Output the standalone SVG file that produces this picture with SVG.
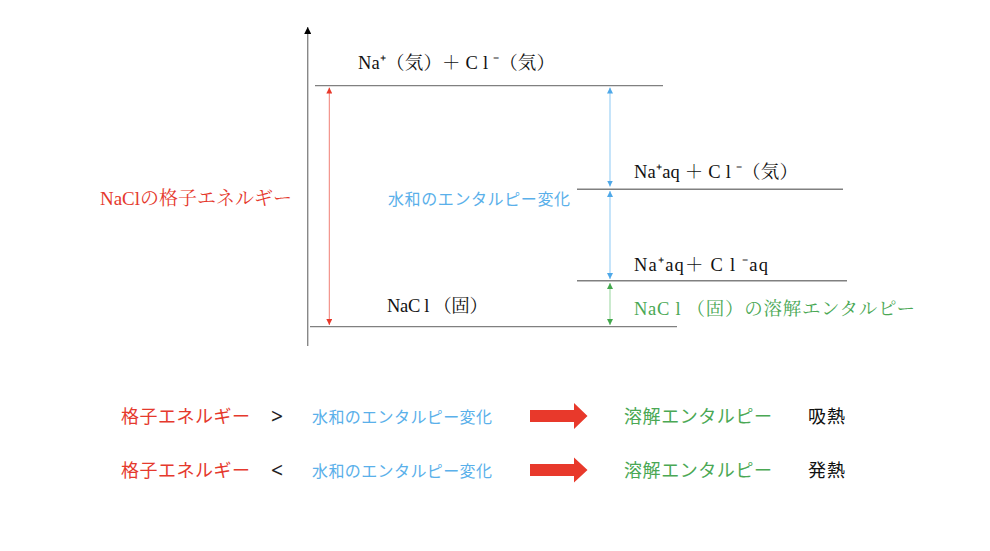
<svg xmlns="http://www.w3.org/2000/svg" width="990" height="551" viewBox="0 0 990 551">
<defs>
<style>
.lvl{stroke:#808080;stroke-width:1.4;fill:none}
.ser{font-family:"Liberation Serif","Noto Serif CJK JP","Noto Sans CJK JP",serif;font-size:18.5px;fill:#111}
.sans{font-family:"Noto Sans CJK JP","Noto Sans",sans-serif;font-size:18px}
.red{fill:#e5392d}
.blue{fill:#5ab0ea}
.green{fill:#4aa854}
.blk{fill:#111}
.cmp{font-family:"Noto Sans","DejaVu Sans",sans-serif;font-size:21px;fill:#222}
</style>
<marker id="hAx" viewBox="0 0 10 10" refX="10" refY="5" markerUnits="userSpaceOnUse" markerWidth="7" markerHeight="7" orient="auto"><path d="M0,0 L10,5 L0,10 z" fill="#000"/></marker>
<marker id="hR" viewBox="0 0 10 10" refX="10" refY="5" markerUnits="userSpaceOnUse" markerWidth="6" markerHeight="6" orient="auto-start-reverse"><path d="M0,0 L10,5 L0,10 z" fill="#e8392b"/></marker>
<marker id="hB" viewBox="0 0 10 10" refX="10" refY="5" markerUnits="userSpaceOnUse" markerWidth="6" markerHeight="6" orient="auto-start-reverse"><path d="M0,0 L10,5 L0,10 z" fill="#4fa8e8"/></marker>
<marker id="hG" viewBox="0 0 10 10" refX="10" refY="5" markerUnits="userSpaceOnUse" markerWidth="6" markerHeight="6" orient="auto-start-reverse"><path d="M0,0 L10,5 L0,10 z" fill="#43a84d"/></marker>
</defs>
<rect width="990" height="551" fill="#fff"/>

<g id="axis">
<line x1="307.7" y1="346" x2="307.7" y2="27" stroke="#888" stroke-width="1.4" marker-end="url(#hAx)"/>
</g>

<g id="levels">
<g id="level-gas"><line class="lvl" x1="315" y1="85.6" x2="663" y2="85.6"/>
<text class="ser" x="358" y="69" textLength="197" lengthAdjust="spacing">Na⁺（気）＋ C l ⁻（気）</text></g>
<g id="level-naaq"><line class="lvl" x1="577" y1="189.2" x2="843" y2="189.2"/>
<text class="ser" x="634" y="178" textLength="164" lengthAdjust="spacing">Na⁺aq ＋ C l ⁻（気）</text></g>
<g id="level-aq"><line class="lvl" x1="577" y1="280.8" x2="847" y2="280.8"/>
<text class="ser" x="634" y="271" textLength="134" lengthAdjust="spacing">Na⁺aq＋ C l ⁻aq</text></g>
<g id="level-solid"><line class="lvl" x1="310" y1="326.6" x2="677" y2="326.6"/>
<text class="ser" x="387" y="312" textLength="101" lengthAdjust="spacing">NaC l （固）</text></g>
</g>

<g id="connectors">
<line x1="329.3" y1="87.5" x2="329.3" y2="325" stroke="#f07d74" stroke-width="1" marker-start="url(#hR)" marker-end="url(#hR)"/>
<line x1="610" y1="87.5" x2="610" y2="186.5" stroke="#9fd2f6" stroke-width="1.2" marker-start="url(#hB)" marker-end="url(#hB)"/>
<line x1="610" y1="191" x2="610" y2="279" stroke="#9fd2f6" stroke-width="1.2" marker-start="url(#hB)" marker-end="url(#hB)"/>
<line x1="610" y1="283" x2="610" y2="325" stroke="#a8dcae" stroke-width="1.2" marker-start="url(#hG)" marker-end="url(#hG)"/>
</g>

<g id="labels">
<text class="ser red" x="100" y="205" style="font-size:19px" textLength="192" lengthAdjust="spacing">NaClの格子エネルギー</text>
<text class="sans blue" x="388" y="205" style="font-size:16px" textLength="182" lengthAdjust="spacing">水和のエンタルピー変化</text>
<text class="ser green" x="634" y="315" textLength="281" lengthAdjust="spacing">NaC l （固）の溶解エンタルピー</text>
</g>

<g id="row1">
<text class="sans red" x="121" y="423" textLength="129" lengthAdjust="spacing">格子エネルギー</text>
<text class="cmp" x="271" y="424">&gt;</text>
<text class="sans blue" x="312" y="423" style="font-size:16px" textLength="180" lengthAdjust="spacing">水和のエンタルピー変化</text>
<path d="M530,410 L574,410 L574,403 L587.5,416 L574,429 L574,422 L530,422 z" fill="#e8392b"/>
<text class="sans green" x="624" y="423" textLength="148" lengthAdjust="spacing">溶解エンタルピー</text>
<text class="sans blk" x="808" y="423" textLength="37" lengthAdjust="spacing">吸熱</text>
</g>

<g id="row2">
<text class="sans red" x="121" y="477" textLength="129" lengthAdjust="spacing">格子エネルギー</text>
<text class="cmp" x="271" y="478">&lt;</text>
<text class="sans blue" x="312" y="477" style="font-size:16px" textLength="180" lengthAdjust="spacing">水和のエンタルピー変化</text>
<path d="M530,464 L574,464 L574,457.5 L587.5,470 L574,482.5 L574,476 L530,476 z" fill="#e8392b"/>
<text class="sans green" x="624" y="477" textLength="148" lengthAdjust="spacing">溶解エンタルピー</text>
<text class="sans blk" x="808" y="477" textLength="37" lengthAdjust="spacing">発熱</text>
</g>
</svg>
